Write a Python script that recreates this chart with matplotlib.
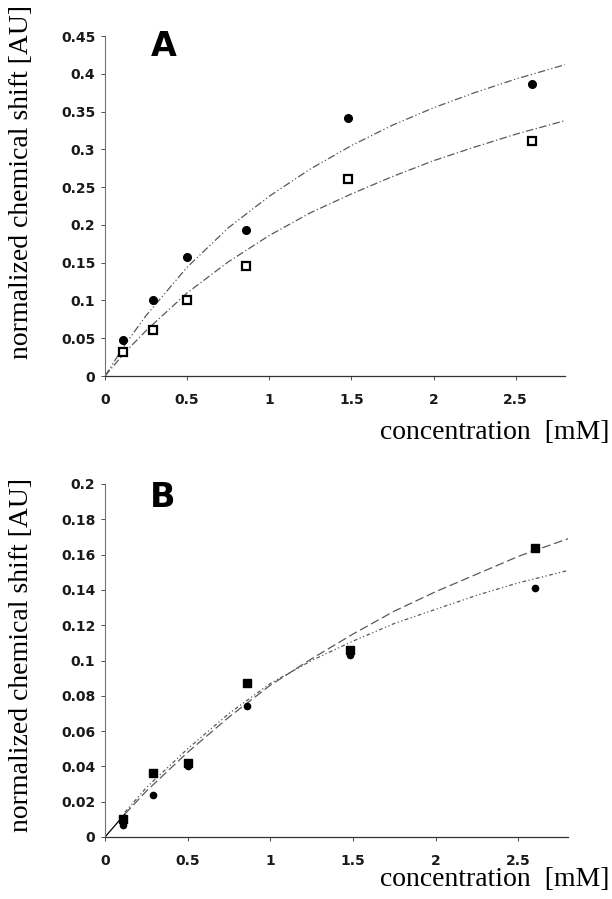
import matplotlib
matplotlib.use("Agg")
import matplotlib.pyplot as plt

# measured points (concentration in mM)
conc = [0.11, 0.29, 0.50, 0.86, 1.48, 2.60]

a_circles = [0.047, 0.100, 0.158, 0.193, 0.341, 0.386]
a_squares = [0.032, 0.061, 0.100, 0.145, 0.261, 0.311]

b_squares = [0.010, 0.036, 0.042, 0.087, 0.106, 0.164]
b_circles = [0.007, 0.024, 0.040, 0.074, 0.103, 0.141]

# fitted curves
fit_x = [0, 0.12, 0.25, 0.5, 0.75, 1.0, 1.25, 1.5, 1.75, 2.0, 2.25, 2.5, 2.8]
a_fit_circles = [0, 0.041, 0.080, 0.144, 0.196, 0.238, 0.274, 0.305, 0.332, 0.355, 0.375, 0.393, 0.412]
a_fit_squares = [0, 0.031, 0.060, 0.110, 0.151, 0.186, 0.216, 0.241, 0.264, 0.285, 0.303, 0.320, 0.338]
b_fit_squares = [0, 0.013, 0.026, 0.048, 0.068, 0.086, 0.101, 0.115, 0.128, 0.139, 0.149, 0.159, 0.169]
b_fit_circles = [0, 0.014, 0.028, 0.050, 0.070, 0.087, 0.100, 0.111, 0.121, 0.129, 0.137, 0.144, 0.151]

x_ticks = [0, 0.5, 1, 1.5, 2, 2.5]
x_labels = ["0", "0.5", "1", "1.5", "2", "2.5"]
a_yticks = [0, 0.05, 0.1, 0.15, 0.2, 0.25, 0.3, 0.35, 0.4, 0.45]
a_ylabels = ["0", "0.05", "0.1", "0.15", "0.2", "0.25", "0.3", "0.35", "0.4", "0.45"]
b_yticks = [0, 0.02, 0.04, 0.06, 0.08, 0.1, 0.12, 0.14, 0.16, 0.18, 0.2]
b_ylabels = ["0", "0.02", "0.04", "0.06", "0.08", "0.1", "0.12", "0.14", "0.16", "0.18", "0.2"]

W, H = 612, 899
fig = plt.figure(figsize=(W / 100, H / 100), dpi=100)

ax_a = fig.add_axes([105 / W, 1 - 376 / H, 460 / W, 340 / H])
ax_b = fig.add_axes([105 / W, 1 - 837 / H, 463 / W, 353 / H])

line_col = "0.35"


def style_axes(ax, yticks, ylabels, ymax):
    ax.set_xlim(0, 2.8)
    ax.set_ylim(0, ymax)
    ax.set_xticks(x_ticks)
    ax.set_xticklabels(x_labels)
    ax.set_yticks(yticks)
    ax.set_yticklabels(ylabels)
    for s in ["top", "right"]:
        ax.spines[s].set_visible(False)
    ax.spines["left"].set_color("0.45")
    ax.spines["bottom"].set_color("0.2")
    ax.spines["left"].set_linewidth(0.8)
    ax.spines["bottom"].set_linewidth(0.9)
    ax.tick_params(direction="out", length=3, width=0.7, color="0.3",
                   labelsize=10, pad=4, labelcolor="0.1")
    ax.tick_params(axis="x", pad=9)
    for lab in ax.get_xticklabels() + ax.get_yticklabels():
        lab.set_fontweight("bold")


# ---- panel A
ax_a.plot(fit_x, a_fit_circles, color=line_col, lw=0.9, ls=(0, (6, 2, 1, 2, 1, 2)))
ax_a.plot(fit_x, a_fit_squares, color=line_col, lw=0.9, ls=(0, (6, 2, 1, 2)))
ax_a.plot(conc, a_circles, "o", color="black", ms=5.5, clip_on=False)
ax_a.plot(conc, a_squares, "s", mfc="white", mec="black", mew=1.6, ms=6, clip_on=False)
style_axes(ax_a, a_yticks, a_ylabels, 0.45)

# ---- panel B
ax_b.plot(fit_x[:2], b_fit_squares[:2], color="black", lw=0.9)
ax_b.plot(fit_x[1:], b_fit_squares[1:], color=line_col, lw=0.9, ls=(0, (7, 3)))
ax_b.plot(fit_x[1:], b_fit_circles[1:], color=line_col, lw=0.9, ls=(0, (3, 2, 1, 2, 1, 2)))
ax_b.plot(conc, b_squares, "s", color="black", ms=6, clip_on=False)
ax_b.plot(conc, b_circles, "o", color="black", ms=4.5, clip_on=False)
style_axes(ax_b, b_yticks, b_ylabels, 0.2)

# panel letters
fig.text(164 / W, 1 - 56 / H, "A", fontsize=24, fontweight="bold",
         ha="center", va="baseline", family="DejaVu Sans")
fig.text(163 / W, 1 - 507 / H, "B", fontsize=24, fontweight="bold",
         ha="center", va="baseline", family="DejaVu Sans")

# axis titles in serif
serif = ["Liberation Serif", "DejaVu Serif"]
for y_mid, y_xl in [(182, 433), (655, 879)]:
    fig.text(22 / W, 1 - y_mid / H, "normalized chemical shift [AU]",
             rotation=90, ha="center", va="center", fontsize=20, family=serif)
    fig.text(609 / W, 1 - y_xl / H, "concentration  [mM]",
             ha="right", va="center", fontsize=20, family=serif)

fig.savefig("out.png", dpi=100)
